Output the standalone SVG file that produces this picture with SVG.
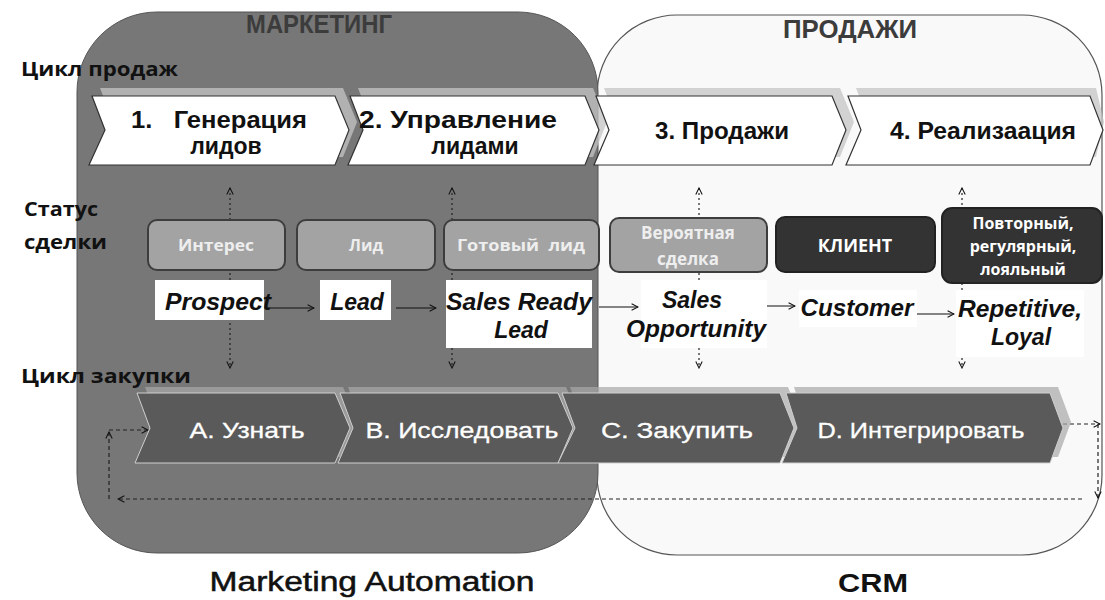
<svg xmlns="http://www.w3.org/2000/svg" width="1105" height="600" viewBox="0 0 1105 600">
<defs>
<style>
.a{font-family:"Liberation Sans",Arial,sans-serif}
.h{font-family:"Liberation Sans",Arial,sans-serif;font-weight:bold;fill:#3c3c3c;font-size:26px}
.lbl{font-family:"Open Sans","Liberation Sans",sans-serif;font-weight:bold;fill:#111;font-size:20px}
.ct{font-family:"Liberation Sans",Arial,sans-serif;font-weight:bold;fill:#111;font-size:23px;text-anchor:middle}
.bt{font-family:"Liberation Sans",Arial,sans-serif;fill:#fff;font-size:22px;text-anchor:middle;stroke:#fff;stroke-width:0.3}
.st{font-family:"Open Sans","Liberation Sans",sans-serif;font-weight:bold;text-anchor:middle}
.st1{fill:#eee;font-size:16px}
.st2{fill:#fff;font-size:16px}
.en{font-family:"Liberation Sans",Arial,sans-serif;font-weight:bold;font-style:italic;fill:#111;font-size:23px;text-anchor:middle}
.topc{fill:#fff;stroke:#333;stroke-width:1.2}
.tops{fill:#c4c4c4;opacity:0.75}
.botc{fill:#5a5a5a;stroke:#cfcfcf;stroke-width:1}
.bots{fill:#a8a8a8;opacity:0.7}
.sb{fill:#a3a3a3;stroke:#3d3d3d;stroke-width:2}
.sd{fill:#333;stroke:#222;stroke-width:2}
.wb{fill:#fff}
.dot{stroke:#222;stroke-width:1.2;stroke-dasharray:2 3;fill:none}
.dash{stroke:#222;stroke-width:1.2;stroke-dasharray:4 3;fill:none}
.sol{stroke:#111;stroke-width:1.2;fill:none}
</style>
<marker id="ah" viewBox="0 0 10 10" refX="9" refY="5" markerWidth="8" markerHeight="8" orient="auto-start-reverse" markerUnits="userSpaceOnUse">
<path d="M1,1 L9,5 L1,9" fill="none" stroke="#111" stroke-width="1.3"/>
</marker>
</defs>
<rect width="1105" height="600" fill="#fff"/>

<g id="sales-area">
<rect x="597" y="15" width="505" height="540" rx="80" fill="#f9f9f9" stroke="#555" stroke-width="1.2"/>
<text class="h" x="850" y="38" text-anchor="middle" textLength="134" lengthAdjust="spacingAndGlyphs">ПРОДАЖИ</text>
</g>
<g id="marketing-area">
<rect x="77" y="12" width="521" height="541" rx="80" fill="#777" stroke="#555" stroke-width="1"/>
<text class="h" x="319" y="33" text-anchor="middle" textLength="146" lengthAdjust="spacingAndGlyphs">МАРКЕТИНГ</text>
</g>

<g id="row-labels">
<text class="lbl" x="21" y="76" textLength="157" lengthAdjust="spacingAndGlyphs">Цикл продаж</text>
<text class="lbl" x="24" y="216" textLength="74" lengthAdjust="spacingAndGlyphs">Статус</text>
<text class="lbl" x="24" y="249" textLength="83" lengthAdjust="spacingAndGlyphs">сделки</text>
<text class="lbl" x="21" y="383" textLength="170" lengthAdjust="spacingAndGlyphs">Цикл закупки</text>
</g>

<g id="connectors">
<line class="dot" x1="230" y1="188" x2="230" y2="368" marker-start="url(#ah)" marker-end="url(#ah)"/>
<line class="dot" x1="452" y1="188" x2="452" y2="368" marker-start="url(#ah)" marker-end="url(#ah)"/>
<line class="dot" x1="699" y1="188" x2="699" y2="368" marker-start="url(#ah)" marker-end="url(#ah)"/>
<line class="dot" x1="962" y1="188" x2="962" y2="368" marker-start="url(#ah)" marker-end="url(#ah)"/>
<line class="sol" x1="268" y1="308" x2="314" y2="308" marker-end="url(#ah)"/>
<line class="sol" x1="396" y1="308" x2="436" y2="308" marker-end="url(#ah)"/>
<line class="sol" x1="599" y1="307" x2="638" y2="307" marker-end="url(#ah)"/>
<line class="sol" x1="757" y1="306" x2="795" y2="306" marker-end="url(#ah)"/>
<line class="sol" x1="915" y1="314" x2="954" y2="314" marker-end="url(#ah)"/>
<line class="dash" x1="1063" y1="424" x2="1100" y2="424" marker-end="url(#ah)"/>
<line class="dash" x1="1098" y1="424" x2="1098" y2="498" marker-end="url(#ah)"/>
<line class="dash" x1="1082" y1="499" x2="118" y2="499" marker-end="url(#ah)"/>
<line class="dash" x1="109" y1="499" x2="109" y2="432" marker-end="url(#ah)"/>
<line class="dash" x1="109" y1="430" x2="148" y2="430" marker-end="url(#ah)"/>
</g>

<g id="sales-cycle">
<g id="s1">
<polygon class="tops" points="100,88 343,88 357,122 343,157 100,157 113,122"/>
<polygon class="topc" points="92,96 335,96 349,130 335,165 89,165 105,130"/>
<text class="ct" xml:space="preserve" x="219" y="128" textLength="176" lengthAdjust="spacingAndGlyphs">1.   Генерация</text>
<text class="ct" x="226" y="154">лидов</text>
</g>
<g id="s2">
<polygon class="tops" points="358,88 593,88 607,122 593,157 356,157 371,122"/>
<polygon class="topc" points="350,96 585,96 599,130 585,165 348,165 363,130"/>
<text class="ct" x="458" y="128" textLength="198" lengthAdjust="spacingAndGlyphs">2. Управление</text>
<text class="ct" x="475" y="154">лидами</text>
</g>
<g id="s3">
<polygon class="tops" points="604,88 840,88 854,122 840,157 602,157 617,122"/>
<polygon class="topc" points="596,96 832,96 846,130 832,165 594,165 609,130"/>
<text class="ct" x="722" y="139" textLength="134" lengthAdjust="spacingAndGlyphs">3. Продажи</text>
</g>
<g id="s4">
<polygon class="tops" points="856,88 1096,88 1104,122 1096,157 854,157 869,122"/>
<polygon class="topc" points="848,96 1090,96 1103,130 1090,165 846,165 861,130"/>
<text class="ct" x="983" y="139" textLength="186" lengthAdjust="spacingAndGlyphs">4. Реализаация</text>
</g>
</g>

<g id="status">
<g id="st1"><rect class="sb" x="148" y="220" width="137" height="50" rx="9"/><text class="st st1" x="216" y="251" textLength="76" lengthAdjust="spacingAndGlyphs">Интерес</text></g>
<g id="st2"><rect class="sb" x="297" y="220" width="138" height="50" rx="9"/><text class="st st1" x="366" y="251">Лид</text></g>
<g id="st3"><rect class="sb" x="444" y="220" width="155" height="50" rx="9"/><text class="st st1" xml:space="preserve" x="521" y="251" textLength="128" lengthAdjust="spacingAndGlyphs">Готовый  лид</text></g>
<g id="st4"><rect class="sb" x="610" y="218" width="157" height="54" rx="9"/><text class="st st1" x="688" y="239" style="font-size:17px">Вероятная</text><text class="st st1" x="688" y="265" style="font-size:17px">сделка</text></g>
<g id="st5"><rect class="sd" x="776" y="217" width="159" height="55" rx="9"/><text class="st st2" x="855" y="252" style="font-size:18px">КЛИЕНТ</text></g>
<g id="st6"><rect class="sd" x="942" y="208" width="160" height="75" rx="10"/><text class="st st2" x="1023" y="229">Повторный,</text><text class="st st2" x="1023" y="252">регулярный,</text><text class="st st2" x="1023" y="275">лояльный</text></g>
</g>

<g id="stages">
<g id="e1"><rect class="wb" x="155" y="280" width="109" height="40"/><text class="en" x="218" y="310" textLength="106" lengthAdjust="spacingAndGlyphs">Prospect</text></g>
<g id="e2"><rect class="wb" x="320" y="280" width="71" height="40"/><text class="en" x="357" y="310">Lead</text></g>
<g id="e3"><rect class="wb" x="446" y="280" width="146" height="68"/><text class="en" x="519" y="310" textLength="146" lengthAdjust="spacingAndGlyphs">Sales Ready</text><text class="en" x="521" y="338">Lead</text></g>
<g id="e4"><rect class="wb" x="641" y="280" width="126" height="68"/><text class="en" x="692" y="308">Sales</text><text class="en" x="696" y="337" textLength="140" lengthAdjust="spacingAndGlyphs">Opportunity</text></g>
<g id="e5"><rect class="wb" x="799" y="290" width="118" height="37"/><text class="en" x="857" y="316" textLength="113" lengthAdjust="spacingAndGlyphs">Customer</text></g>
<g id="e6"><rect class="wb" x="956" y="290" width="128" height="67"/><text class="en" x="1020" y="317" textLength="124" lengthAdjust="spacingAndGlyphs">Repetitive,</text><text class="en" x="1021" y="345">Loyal</text></g>
</g>

<g id="buying-cycle">
<g id="b1">
<polygon class="bots" points="145,387 343,387 358,422 343,457 143,457 158,422"/>
<polygon class="botc" points="137,393 335,393 350,428 335,463 135,463 150,428"/>
<text class="bt" x="247" y="438" textLength="115" lengthAdjust="spacingAndGlyphs">A. Узнать</text>
</g>
<g id="b2">
<polygon class="bots" points="348,387 566,387 581,422 566,457 346,457 361,422"/>
<polygon class="botc" points="340,393 558,393 573,428 558,463 338,463 353,428"/>
<text class="bt" x="462" y="438" textLength="193" lengthAdjust="spacingAndGlyphs">B. Исследовать</text>
</g>
<g id="b3">
<polygon class="bots" points="570,387 788,387 802,422 788,457 566,457 583,422"/>
<polygon class="botc" points="562,393 780,393 794,428 780,463 558,463 575,428"/>
<text class="bt" x="677" y="438" textLength="152" lengthAdjust="spacingAndGlyphs">C. Закупить</text>
</g>
<g id="b4">
<polygon class="bots" points="794,387 1058,387 1071,422 1058,457 790,457 805,422"/>
<polygon class="botc" points="786,393 1050,393 1063,428 1050,463 782,463 797,428"/>
<text class="bt" x="921" y="438" textLength="207" lengthAdjust="spacingAndGlyphs">D. Интегрировать</text>
</g>
</g>

<g id="footer">
<text class="a" x="372" y="591" text-anchor="middle" font-size="27" fill="#111" stroke="#111" stroke-width="0.5" textLength="325" lengthAdjust="spacingAndGlyphs">Marketing Automation</text>
<text class="a" x="873" y="592" text-anchor="middle" font-size="26" font-weight="bold" fill="#111" textLength="70" lengthAdjust="spacingAndGlyphs">CRM</text>
</g>
</svg>
